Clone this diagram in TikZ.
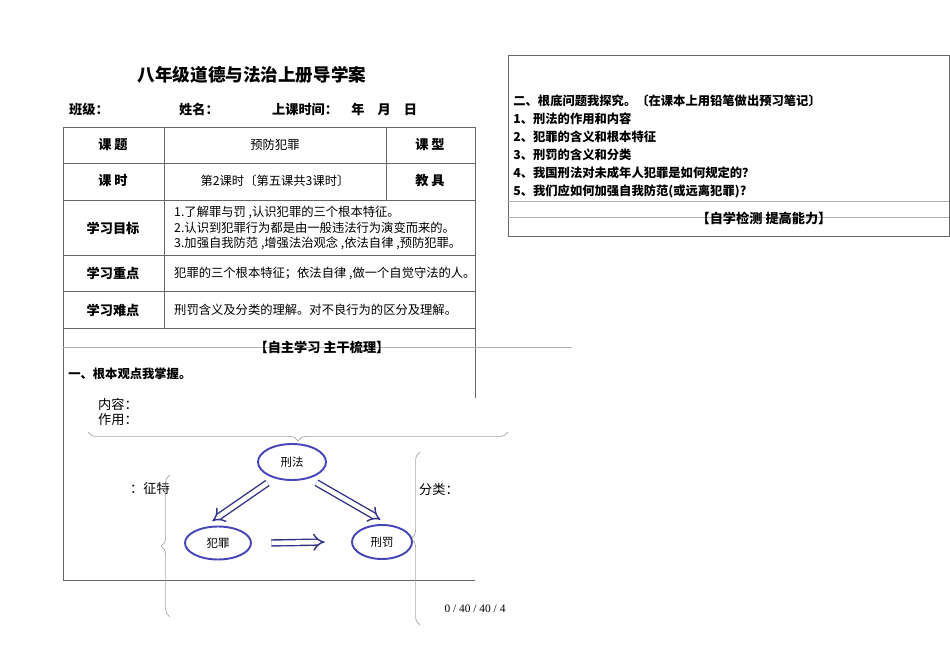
\documentclass[tikz,border=0pt]{standalone}
\usepackage{fontspec}
\setmainfont{Noto Sans CJK SC}
\newfontfamily\pagefont{Liberation Serif}
\usetikzlibrary{arrows.meta,decorations.pathreplacing,shapes.geometric}
\begin{document}
\begin{tikzpicture}[x=0.02cm,y=-0.02cm,
    cell/.style={font=\fontsize{7}{9}\selectfont},
    head/.style={font=\fontsize{7.5}{9}\selectfont\bfseries},
    item/.style={anchor=west, font=\fontsize{7}{9}\selectfont\bfseries, inner sep=0pt},
    oval/.style={ellipse, draw=blue!45!gray, line width=1.1pt, font=\fontsize{6.5}{8}\selectfont, inner sep=0pt},
    arrow/.style={double=white, draw=blue!40!black!80, line width=0.8pt, double distance=2.6pt, -{Implies}, shorten <=1pt, shorten >=1pt},
    grid/.style={draw=black!60, line width=0.5pt},
    brace/.style={draw=black!35, line width=0.4pt, decorate, decoration={brace, amplitude=5pt}}
]
    \useasboundingbox (0,0) rectangle (950,672);
    % Title and header
    \node[font=\fontsize{10}{12}\selectfont\bfseries] (title) at (252,75) {八年级道德与法治上册导学案};
    \node[head, anchor=west] (class) at (63,109) {班级：};
    \node[head, anchor=west] (name) at (173,109) {姓名：};
    \node[head, anchor=west] (time) at (266,109) {上课时间：\quad 年\quad 月\quad 日};

    % Table
    \draw[grid] (63,127) rectangle (475,328);
    \foreach \y in {163,200,255,291} \draw[grid] (63,\y) -- (475,\y);
    \draw[grid] (164,127) -- (164,328);
    \draw[grid] (386,127) -- (386,200);
    \draw[grid] (63,328) -- (63,580) -- (475,580);
    \draw[grid] (475,328) -- (475,398);
    \draw[black!30] (63,347) -- (572,347);
    \node[head] (ktitle) at (113,145) {课\ 题};
    \node[cell] (topic) at (275,145) {预防犯罪};
    \node[head] (ktype) at (430,145) {课\ 型};
    \node[head] (khour) at (113,181) {课\ 时};
    \node[cell] (hour) at (275,181) {第2课时〔第五课共3课时〕};
    \node[head] (tool) at (430,181) {教\ 具};
    \node[head] (goal) at (113,228) {学习目标};
    \node[cell, anchor=west, align=left] (goaltext) at (168,228) {1.了解罪与罚 ,认识犯罪的三个根本特征。\\2.认识到犯罪行为都是由一般违法行为演变而来的。\\3.加强自我防范 ,增强法治观念 ,依法自律 ,预防犯罪。};
    \node[head] (key) at (113,273) {学习重点};
    \node[cell, anchor=west] (keytext) at (168,273) {犯罪的三个根本特征；依法自律 ,做一个自觉守法的人。};
    \node[head] (hard) at (113,310) {学习难点};
    \node[cell, anchor=west] (hardtext) at (168,310) {刑罚含义及分类的理解。对不良行为的区分及理解。};
    \node[head] (self) at (322,347) {【自主学习 主干梳理】};
    \node[item] (part1) at (68,374) {一、根本观点我掌握。};

    % Diagram
    \node[cell, anchor=west, align=left, font=\fontsize{7.5}{8.5}\selectfont] (content) at (92,412) {内容：\\作用：};
    \draw[brace] (508,432) -- (88,432);
    \node[cell, font=\fontsize{7.5}{9}\selectfont] (feat) at (150,488) {：征特};
    \draw[brace] (170,617) -- (170,475);
    \node[cell, font=\fontsize{7.5}{9}\selectfont] (kind) at (439,490) {分类：};
    \draw[brace] (420,625) -- (420,452);
    \node[oval, minimum width=1.36cm, minimum height=0.72cm] (law) at (292,462) {刑法};
    \node[oval, minimum width=1.32cm, minimum height=0.66cm] (crime) at (218,543) {犯罪};
    \node[oval, minimum width=1.2cm, minimum height=0.68cm] (penalty) at (382,542) {刑罚};
    \draw[arrow] (law.-140) ++(-4,4) -- ([xshift=-4pt,yshift=2pt]crime.north);
    \draw[arrow] (law.-40) ++(4,4) -- ([xshift=0pt,yshift=2pt]penalty.north);
    \draw[arrow] ([xshift=10pt]crime.east) -- ([xshift=-14pt]penalty.west);
    \node[font=\pagefont\fontsize{6.5}{8}\selectfont] (page) at (475,609) {0 / 40 / 40 / 4};

    % Right panel
    \draw[grid] (508,55) rectangle (949,236);
    \draw[black!30] (508,201) -- (949,201);
    \draw[black!30] (508,217) -- (949,217);
    \node[item] (part2) at (513,101) {二、根底问题我探究。〔在课本上用铅笔做出预习笔记〕};
    \node[item] (q1) at (513,119) {1、刑法的作用和内容};
    \node[item] (q2) at (513,137) {2、犯罪的含义和根本特征};
    \node[item] (q3) at (513,155) {3、刑罚的含义和分类};
    \node[item] (q4) at (513,173) {4、我国刑法对未成年人犯罪是如何规定的？};
    \node[item] (q5) at (513,191) {5、我们应如何加强自我防范(或远离犯罪)?};
    \node[head] (check) at (764,218) {【自学检测 提高能力】};
\end{tikzpicture}
\end{document}
